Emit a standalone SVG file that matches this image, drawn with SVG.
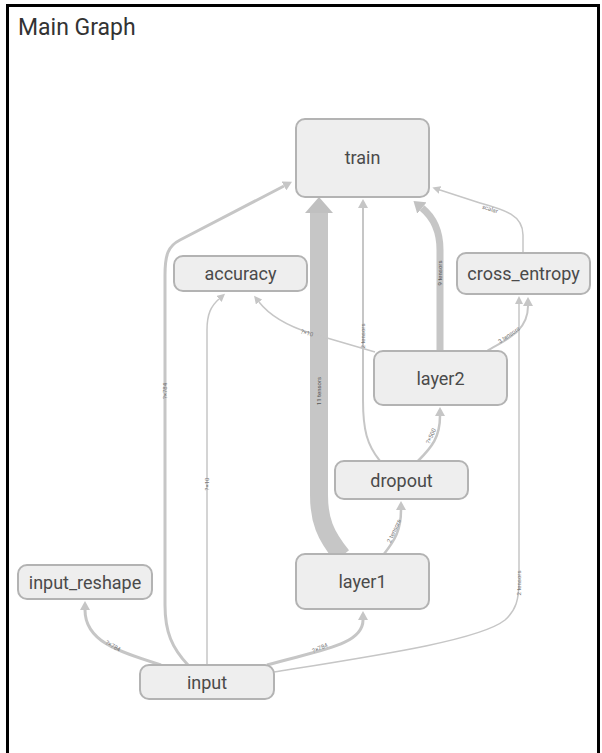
<svg xmlns="http://www.w3.org/2000/svg" width="602" height="753" viewBox="0 0 602 753">
<style>
.node rect{fill:#eeeeee;stroke:#b3b3b3;stroke-width:2}
.node text{font-family:Roboto,"Liberation Sans",sans-serif;font-size:18px;fill:#4a4a4a;text-anchor:middle}
.e{fill:none;stroke:#c6c6c6;stroke-linecap:butt}
.lbl{font-family:Roboto,"Liberation Sans",sans-serif;font-size:6px;fill:#777;text-anchor:middle}
.lbl.dark{fill:#555}
</style>
<defs>
<marker id="arrS" viewBox="0 0 10 10" refX="0" refY="5" markerUnits="userSpaceOnUse" markerWidth="8" markerHeight="8" orient="auto" preserveAspectRatio="none"><path d="M0,0 L10,5 L0,10 z" fill="#c6c6c6"/></marker>
<marker id="arrM" viewBox="0 0 10 10" refX="0" refY="5" markerUnits="userSpaceOnUse" markerWidth="9" markerHeight="10" orient="auto" preserveAspectRatio="none"><path d="M0,0 L10,5 L0,10 z" fill="#c6c6c6"/></marker>
<marker id="arr9" viewBox="0 0 10 10" refX="0" refY="5" markerUnits="userSpaceOnUse" markerWidth="11" markerHeight="15" orient="auto" preserveAspectRatio="none"><path d="M0,0 L10,5 L0,10 z" fill="#c2c2c2"/></marker>
<marker id="arrL" viewBox="0 0 10 10" refX="0" refY="5" markerUnits="userSpaceOnUse" markerWidth="16" markerHeight="28" orient="auto" preserveAspectRatio="none"><path d="M0,0 L10,5 L0,10 z" fill="#c0c0c0"/></marker>
</defs>
<rect x="0" y="0" width="602" height="753" fill="#ffffff"/>
<path d="M7.5,753 L7.5,5.5 L598.5,5.5 L598.5,753" fill="none" stroke="#000" stroke-width="3"/>
<text x="18" y="35" font-family="Roboto,'Liberation Sans',sans-serif" font-size="23" fill="#333">Main Graph</text>

<g id="connectors">
<path class="e" stroke-width="3" marker-end="url(#arrM)" d="M188,665 C172,648 165,632 165,605 L165,275 C165,255 168,246 180,240 L284,186"/>
<text class="lbl" transform="translate(165,391) rotate(-90)" dy="2">?×784</text>
<path class="e" stroke-width="1.5" marker-end="url(#arrS)" d="M207,665 L207,330 C207,314 211,306 219,299"/>
<text class="lbl" transform="translate(207,484) rotate(-90)" dy="2">?×10</text>
<path class="e" stroke-width="3" marker-end="url(#arrM)" d="M161,665 C120,652 85,642 85,610"/>
<text class="lbl" transform="translate(113,646) rotate(30)" dy="2">?×784</text>
<path class="e" stroke-width="3" marker-end="url(#arrM)" d="M267,665 C320,650 363,645 363,620"/>
<text class="lbl" transform="translate(320,648) rotate(-22)" dy="2">?×784</text>
<path class="e" stroke-width="1.5" marker-end="url(#arrS)" d="M274,672 C380,655 480,640 505,620 C516,610 519,600 519,580 L519,304"/>
<text class="lbl" transform="translate(519,583) rotate(-90)" dy="2">2 tensors</text>
<path class="e" stroke="#c0c0c0" stroke-width="18" marker-end="url(#arrL)" d="M342,556 C325,535 319,520 319,495 L319,213"/>
<text class="lbl dark" transform="translate(319,391) rotate(-90)" dy="2">11 tensors</text>
<path class="e" stroke-width="2.5" marker-end="url(#arrM)" d="M384,554 C395,540 401,530 401,510"/>
<text class="lbl" transform="translate(394,531) rotate(-65)" dy="2">2 tensors</text>
<path class="e" stroke-width="2.5" marker-end="url(#arrM)" d="M418,461 C432,447 440,437 440,416"/>
<text class="lbl" transform="translate(431,436) rotate(-65)" dy="2">?×500</text>
<path class="e" stroke-width="2" marker-end="url(#arrM)" d="M380,461 C367,445 363,430 363,400 L363,208"/>
<text class="lbl" transform="translate(363,336) rotate(-90)" dy="2">2 tensors</text>
<path class="e" stroke="#c2c2c2" stroke-width="7" marker-end="url(#arr9)" d="M440,351 L440,250 C440,230 433,217 422,208"/>
<text class="lbl dark" transform="translate(440,273) rotate(-90)" dy="2">9 tensors</text>
<path class="e" stroke-width="1.5" marker-end="url(#arrS)" d="M375,352 L310,333 C288,326 270,316 259,302"/>
<text class="lbl" transform="translate(307,333) rotate(16)" dy="2">?×10</text>
<path class="e" stroke-width="2" marker-end="url(#arrM)" d="M487,351 C505,340 528,332 528,306"/>
<text class="lbl" transform="translate(509,335) rotate(-35)" dy="2">3 tensors</text>
<path class="e" stroke-width="1.5" marker-end="url(#arrS)" d="M523,253 L523,235 C523,215 505,210 480,203 L440,190"/>
<text class="lbl" transform="translate(490,209) rotate(18)" dy="2">scalar</text>
</g>

<g id="train" class="node"><rect x="296" y="119" width="133" height="78" rx="9"/><text x="362.5" y="164">train</text></g>
<g id="accuracy" class="node"><rect x="174" y="256" width="133" height="35" rx="9"/><text x="240.5" y="280">accuracy</text></g>
<g id="cross_entropy" class="node"><rect x="457" y="253" width="133" height="41" rx="9"/><text x="523.5" y="280">cross_entropy</text></g>
<g id="layer2" class="node"><rect x="374" y="351" width="133" height="54" rx="9"/><text x="440.5" y="384.5">layer2</text></g>
<g id="dropout" class="node"><rect x="335" y="461" width="133" height="38" rx="9"/><text x="401.5" y="486.5">dropout</text></g>
<g id="layer1" class="node"><rect x="296" y="554" width="133" height="55" rx="9"/><text x="362.5" y="588">layer1</text></g>
<g id="input_reshape" class="node"><rect x="18" y="565" width="134" height="34" rx="9"/><text x="85" y="588.5">input_reshape</text></g>
<g id="input" class="node"><rect x="140" y="665" width="134" height="34" rx="9"/><text x="207" y="688.5">input</text></g>
</svg>
